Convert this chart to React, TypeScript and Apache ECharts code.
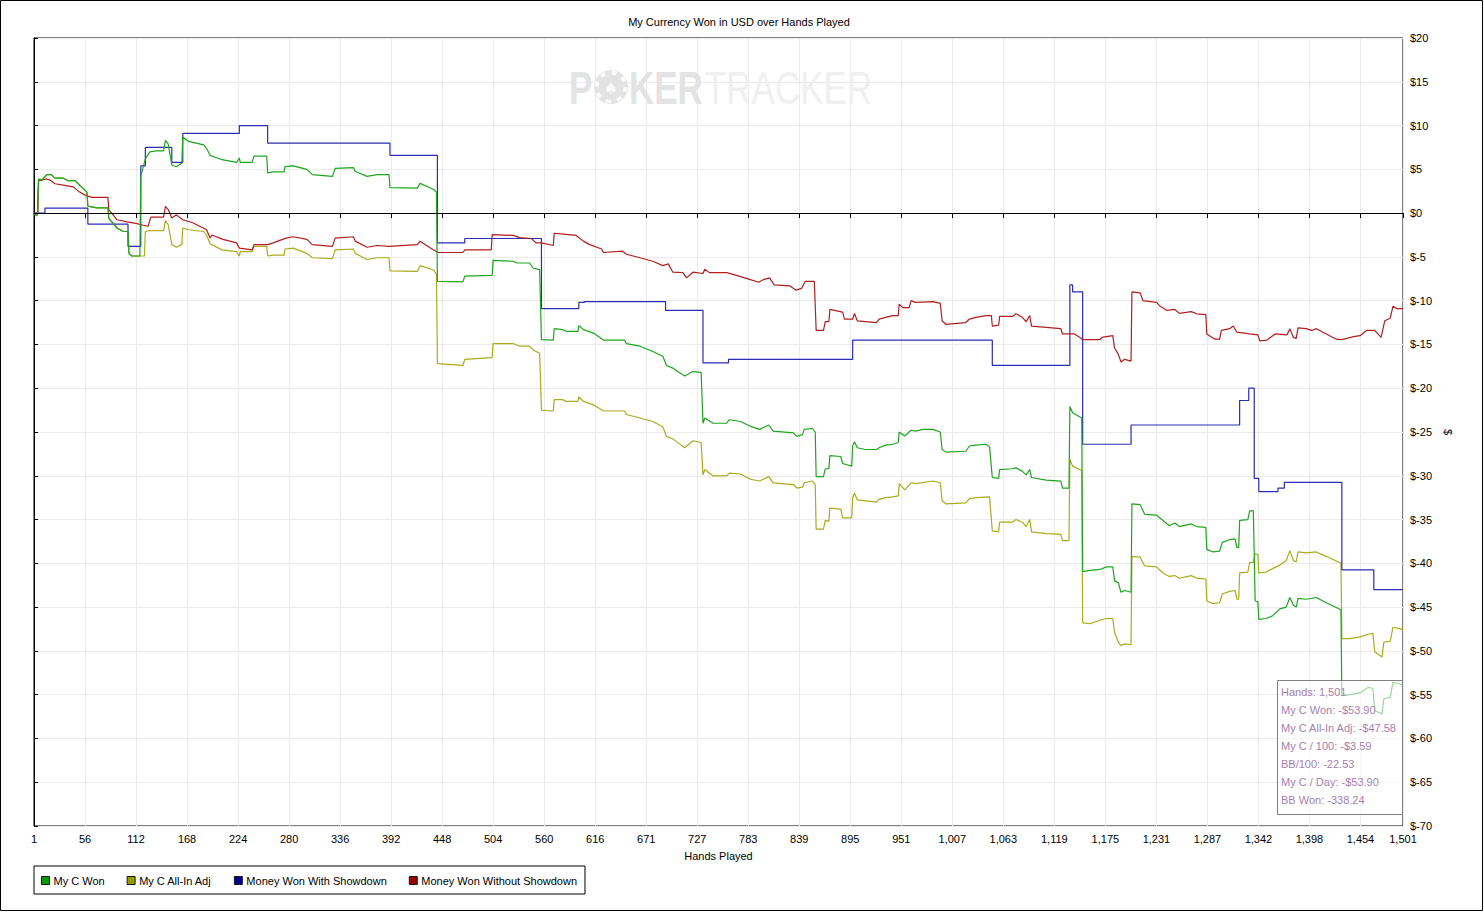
import { useEffect, useRef } from "react";
import * as echarts from "echarts";

const FONT = "'Liberation Sans', Arial, sans-serif";

const chartTitle = "My Currency Won in USD over Hands Played";
const xAxisTitle = "Hands Played";
const yAxisTitle = "$";

const xTickLabels = [
  "1", "56", "112", "168", "224", "280", "336", "392", "448", "504", "560", "616", "671", "727",
  "783", "839", "895", "951", "1,007", "1,063", "1,119", "1,175", "1,231", "1,287", "1,342",
  "1,398", "1,454", "1,501",
];

const seriesNames = ["My C Won", "My C All-In Adj", "Money Won With Showdown", "Money Won Without Showdown"];

const infoLines = [
  "Hands: 1,501",
  "My C Won: -$53.90",
  "My C All-In Adj: -$47.58",
  "My C / 100: -$3.59",
  "BB/100: -22.53",
  "My C / Day: -$53.90",
  "BB Won: -338.24",
];

// [hand, dollars]
const myCWon: [number, number][] = [
  [1, 0], [4, -0.3], [5, 0], [6, 3.9], [10, 3.8], [15, 4.4], [20, 4.4], [24, 4.0], [33, 4.0], [38, 3.7],
  [46, 3.7], [51, 3.2], [57, 2.6], [59, 2.4], [60, 0.8], [70, 0.6], [82, 0.6], [83, -0.6], [92, -1.7],
  [99, -2.1], [104, -2.1], [105, -4.6], [108, -4.9], [117, -4.9], [118, 4.2], [123, 6.2], [128, 7.0],
  [135, 7.1], [143, 7.1], [145, 8.3], [148, 7.9], [152, 5.5], [157, 5.3], [163, 5.7], [164, 8.7],
  [170, 8.2], [187, 7.8], [190, 7.4], [194, 6.6], [207, 6.1], [223, 5.8], [226, 6.3], [227, 5.8],
  [240, 5.8], [242, 6.5], [256, 6.5], [257, 4.6], [263, 4.7], [275, 4.7], [276, 5.3], [285, 5.4],
  [300, 5.0], [306, 4.4], [328, 4.2], [331, 5.1], [351, 5.2], [353, 4.75], [366, 4.2], [377, 4.4],
  [390, 4.4], [391, 2.9], [421, 2.85], [424, 3.4], [439, 2.7], [442, 2.4], [443, -7.8], [471, -7.86],
  [473, -7.2], [503, -7.1], [504, -5.4], [526, -5.5], [530, -5.7], [544, -5.7], [548, -6.3],
  [555, -6.45], [557, -14.45], [570, -14.5], [571, -13.2], [580, -13.3], [584, -13.5], [597, -13.5],
  [598, -12.85], [603, -13.3], [614, -13.7], [625, -14.5], [648, -14.5], [650, -14.9], [665, -15.2],
  [679, -15.8], [690, -16.35], [694, -17.4], [701, -17.7], [705, -18.0], [714, -18.6], [723, -18.1],
  [732, -18.2], [734, -24.0], [736, -23.4], [745, -24.0], [760, -24.0], [763, -23.6], [775, -23.8],
  [786, -24.35], [796, -24.7], [806, -24.2], [811, -24.9], [833, -25.1], [837, -25.5], [843, -25.3],
  [845, -24.7], [854, -24.6], [857, -25.0], [858, -30.1], [866, -30.1], [868, -29.2], [872, -29.2],
  [873, -27.7], [885, -27.8], [887, -28.6], [897, -28.9], [898, -26.6], [900, -26.1], [903, -26.8],
  [912, -27.0], [924, -27.0], [927, -26.8], [934, -26.5], [942, -26.4], [948, -26.2], [949, -25.0],
  [955, -25.45], [962, -24.8], [967, -24.9], [975, -24.7], [986, -24.7], [994, -25.0], [996, -27.0],
  [1000, -27.3], [1022, -27.2], [1026, -26.6], [1033, -26.5], [1044, -26.4], [1048, -26.7],
  [1051, -30.2], [1058, -30.3], [1059, -29.3], [1073, -29.2], [1077, -29.1], [1084, -29.5],
  [1088, -29.9], [1092, -29.3], [1094, -30.2], [1110, -30.5], [1126, -30.6], [1128, -31.4],
  [1135, -31.4], [1136, -22.1], [1139, -22.8], [1149, -23.4], [1150, -40.95], [1158, -40.8],
  [1169, -40.7], [1176, -40.4], [1183, -40.4], [1185, -42.0], [1189, -42.2], [1192, -43.3],
  [1196, -43.1], [1203, -43.3], [1204, -33.2], [1213, -33.3], [1218, -34.4], [1231, -34.5],
  [1238, -35.1], [1245, -35.7], [1251, -35.4], [1256, -35.8], [1269, -35.5], [1275, -35.8],
  [1285, -35.9], [1286, -38.4], [1293, -38.7], [1300, -38.6], [1303, -37.6], [1311, -37.3],
  [1317, -37.2], [1319, -38.2], [1321, -38.2], [1322, -35.1], [1331, -35.0], [1333, -34.0],
  [1337, -34.0], [1339, -44.3], [1342, -44.4], [1343, -46.4], [1351, -46.3], [1358, -46.0],
  [1366, -45.2], [1373, -45.0], [1377, -43.9], [1381, -44.8], [1384, -45.0], [1386, -44.0],
  [1395, -44.1], [1406, -43.9], [1417, -44.5], [1433, -45.3], [1434, -55.1], [1443, -55.0],
  [1454, -54.8], [1463, -54.15], [1468, -54.3], [1470, -56.8], [1478, -57.2], [1480, -55.5],
  [1487, -55.3], [1490, -53.6], [1495, -53.7], [1501, -53.9],
];

const myCAllInAdj: [number, number][] = [
  [1, 0], [4, -0.3], [5, 0], [6, 3.9], [10, 3.8], [15, 4.4], [20, 4.4], [24, 4.0], [33, 4.0], [38, 3.7],
  [46, 3.7], [51, 3.2], [57, 2.6], [59, 2.4], [60, 0.8], [70, 0.6], [82, 0.6], [83, -0.6], [92, -1.7],
  [99, -2.1], [104, -2.1], [105, -4.6], [108, -4.9], [122, -4.9], [123, -2.1], [128, -2.0], [143, -2.0],
  [145, -0.85], [148, -1.3], [152, -3.6], [157, -3.9], [163, -3.6], [164, -1.7], [170, -1.9],
  [187, -2.1], [190, -2.5], [194, -3.5], [207, -4.2], [223, -4.4], [226, -4.9], [227, -4.4],
  [240, -4.4], [242, -3.8], [256, -3.8], [257, -4.9], [263, -4.8], [275, -4.8], [276, -4.1],
  [285, -4.0], [300, -4.6], [306, -5.1], [328, -5.2], [331, -4.2], [351, -4.1], [353, -4.6],
  [366, -5.3], [377, -5.1], [390, -5.1], [391, -6.6], [421, -6.65], [424, -6.0], [439, -6.5],
  [442, -7.0], [443, -17.2], [471, -17.4], [473, -16.7], [503, -16.5], [504, -14.9], [526, -14.9],
  [533, -15.2], [544, -15.2], [549, -15.7], [555, -16.0], [557, -22.5], [570, -22.6], [571, -21.3],
  [580, -21.3], [584, -21.5], [597, -21.5], [598, -21.0], [603, -21.5], [614, -21.9], [625, -22.6],
  [648, -22.6], [650, -23.0], [665, -23.4], [679, -23.8], [690, -24.4], [694, -25.5], [701, -25.8],
  [705, -26.1], [714, -26.8], [723, -26.0], [732, -26.2], [734, -29.9], [736, -29.3], [745, -30.0],
  [760, -30.0], [763, -29.7], [775, -29.8], [786, -30.4], [796, -30.6], [806, -30.1], [811, -30.8],
  [833, -31.0], [837, -31.4], [843, -31.3], [845, -30.8], [854, -30.6], [857, -31.0], [858, -36.1],
  [866, -36.1], [868, -35.1], [872, -35.2], [873, -33.7], [885, -33.8], [887, -34.8], [897, -34.8],
  [898, -32.5], [900, -32.0], [903, -32.75], [924, -33.0], [927, -32.7], [934, -32.5], [942, -32.4],
  [948, -32.3], [949, -30.9], [955, -31.6], [962, -30.8], [967, -30.9], [986, -30.6], [994, -30.8],
  [996, -32.85], [1000, -33.2], [1022, -33.1], [1026, -32.6], [1033, -32.5], [1048, -32.4],
  [1051, -36.3], [1058, -36.4], [1059, -35.3], [1073, -35.3], [1077, -35.0], [1084, -35.3],
  [1088, -35.8], [1092, -35.0], [1094, -36.4], [1110, -36.6], [1126, -36.7], [1128, -37.4],
  [1135, -37.4], [1136, -28.1], [1139, -28.9], [1149, -29.4], [1150, -46.8], [1158, -46.9],
  [1169, -46.5], [1176, -46.3], [1183, -46.3], [1185, -47.9], [1189, -49.0], [1192, -49.4],
  [1196, -49.2], [1203, -49.3], [1204, -39.2], [1213, -39.3], [1218, -40.3], [1231, -40.4],
  [1238, -41.1], [1245, -41.5], [1251, -41.4], [1256, -41.7], [1269, -41.4], [1275, -41.7],
  [1285, -41.8], [1286, -44.3], [1293, -44.6], [1300, -44.5], [1303, -43.5], [1311, -43.2],
  [1317, -43.1], [1319, -44.1], [1321, -44.1], [1322, -41.1], [1331, -41.0], [1333, -39.9],
  [1337, -39.9], [1339, -38.9], [1342, -39.0], [1343, -41.1], [1351, -41.0], [1358, -40.6],
  [1366, -40.2], [1373, -39.7], [1377, -38.55], [1381, -39.7], [1384, -39.8], [1386, -38.7],
  [1395, -38.8], [1406, -38.7], [1417, -39.2], [1433, -40.0], [1434, -48.6], [1443, -48.6],
  [1454, -48.4], [1463, -48.1], [1468, -48.0], [1470, -50.1], [1478, -50.7], [1480, -49.0],
  [1487, -48.9], [1490, -47.3], [1495, -47.4], [1501, -47.58],
];

// value changes to the given amount at the given hand
const wonWithShowdown: [number, number][] = [
  [1, 0], [13, 0.57], [60, -1.25], [104, -3.8], [118, 5.4], [123, 7.5], [152, 5.8], [164, 9.1],
  [226, 10.0], [257, 8.0], [391, 6.6], [443, -3.4], [473, -2.9], [557, -10.9], [598, -10.2],
  [604, -10.1], [693, -11.1], [734, -17.1], [762, -16.7], [898, -14.5], [1051, -17.4], [1136, -8.2],
  [1139, -9.0], [1150, -26.4], [1203, -24.2], [1322, -21.4], [1332, -20.0], [1338, -30.3],
  [1343, -31.8], [1364, -31.4], [1371, -30.75], [1434, -40.75], [1469, -43.0], [1501, -43.0],
];

const wonWithoutShowdown: [number, number][] = [
  [1, 0], [5, 0], [6, 3.7], [10, 3.8], [15, 3.9], [18, 3.8], [24, 3.35], [33, 3.2], [44, 3.0],
  [51, 2.4], [58, 2.0], [65, 1.8], [82, 1.8], [83, 0.4], [92, -0.76], [103, -1.0], [114, -1.2],
  [117, -1.3], [126, -1.5], [129, -0.45], [143, -0.45], [145, 0.76], [148, 0.4], [152, -0.57],
  [157, -0.2], [164, -0.76], [175, -1.1], [190, -1.9], [194, -2.85], [196, -2.5], [208, -3.0],
  [223, -3.4], [226, -4.0], [240, -4.2], [242, -3.6], [257, -3.6], [263, -3.4], [277, -2.85],
  [285, -2.7], [300, -3.0], [306, -3.6], [328, -3.8], [331, -2.85], [351, -2.7], [353, -3.2],
  [366, -3.9], [377, -3.7], [390, -3.8], [421, -3.6], [424, -3.2], [438, -4.16], [444, -4.5],
  [471, -4.5], [473, -4.2], [502, -4.2], [503, -2.45], [526, -2.55], [533, -2.8], [546, -2.9],
  [551, -3.4], [557, -3.4], [570, -3.7], [571, -2.3], [581, -2.4], [595, -2.55], [603, -3.2],
  [610, -3.6], [623, -4.1], [625, -4.5], [646, -4.35], [650, -4.7], [665, -5.1], [679, -5.5],
  [690, -6.0], [696, -5.8], [701, -6.75], [712, -6.8], [716, -7.4], [723, -6.75], [734, -6.9],
  [736, -6.4], [741, -6.8], [760, -6.8], [767, -7.0], [786, -7.6], [795, -7.9], [800, -7.6],
  [807, -7.4], [812, -8.2], [829, -8.3], [836, -8.8], [842, -8.6], [846, -7.8], [856, -7.8],
  [858, -13.4], [866, -13.4], [868, -12.4], [872, -12.4], [873, -11.0], [887, -11.3], [889, -12.1],
  [898, -12.1], [900, -11.45], [903, -12.3], [924, -12.5], [927, -12.1], [934, -11.9], [942, -11.7],
  [948, -11.7], [949, -10.4], [953, -10.8], [960, -10.8], [962, -10.0], [967, -10.2], [986, -10.1],
  [994, -10.3], [996, -12.3], [1000, -12.7], [1022, -12.5], [1026, -12.1], [1033, -11.9],
  [1044, -11.7], [1050, -11.7], [1051, -12.9], [1058, -12.8], [1059, -11.8], [1073, -11.8],
  [1077, -11.5], [1084, -11.9], [1088, -12.4], [1092, -11.7], [1094, -12.9], [1110, -13.05],
  [1126, -13.2], [1128, -13.8], [1141, -13.8], [1147, -14.2], [1150, -14.45], [1169, -14.45],
  [1171, -14.2], [1183, -14.0], [1185, -15.4], [1189, -16.1], [1192, -17.0], [1196, -16.7],
  [1203, -16.9], [1204, -9.0], [1213, -9.1], [1216, -10.0], [1231, -10.2], [1235, -10.65],
  [1242, -11.1], [1251, -11.0], [1256, -11.45], [1269, -11.25], [1275, -11.5], [1285, -11.6],
  [1286, -13.8], [1295, -14.4], [1300, -14.4], [1302, -13.4], [1311, -13.2], [1315, -12.9],
  [1319, -13.6], [1333, -13.8], [1342, -13.9], [1344, -14.6], [1352, -14.5], [1361, -13.8],
  [1374, -13.9], [1377, -13.2], [1381, -14.2], [1384, -14.3], [1386, -13.1], [1395, -13.2],
  [1401, -13.4], [1406, -13.2], [1417, -13.8], [1428, -14.4], [1434, -14.45], [1447, -14.1],
  [1454, -14.0], [1461, -13.4], [1470, -13.4], [1477, -14.2], [1481, -12.3], [1487, -12.0],
  [1490, -10.65], [1494, -10.9], [1501, -10.9],
];

const lineColors = ["#1ea51e", "#abab1c", "#2c2cb4", "#b21e1e"];
const legendColors = ["#009900", "#999900", "#000099", "#990000"];

const HAND_STEP = 55.9;
// the axis runs in "hands after the first", so that 0 is a multiple of the tick step
const toAxis = (pts: [number, number][]) => pts.map(([h, v]) => [h - 1, v]);

function buildOption(): any {
  const textBase = { fontFamily: FONT, fontSize: 11, color: "#000" };
  const lineSeries = (i: number, data: [number, number][], extra: any = {}) => ({
    name: seriesNames[i],
    type: "line",
    data: toAxis(data),
    showSymbol: false,
    symbol: "none",
    silent: true,
    lineStyle: { color: lineColors[i], width: 1.2 },
    itemStyle: { color: legendColors[i] },
    emphasis: { disabled: true },
    ...extra,
  });

  return {
    animation: false,
    backgroundColor: "#ffffff",
    textStyle: { fontFamily: FONT },
    grid: {
      left: 34,
      right: 81,
      top: 38,
      bottom: 86,
      show: true,
      borderColor: "#000",
      borderWidth: 1,
      backgroundColor: "transparent",
      containLabel: false,
      outerBoundsMode: "none",
    },
    xAxis: {
      type: "value",
      min: 0,
      max: 1500,
      interval: HAND_STEP,
      name: xAxisTitle,
      nameLocation: "middle",
      nameGap: 24,
      nameTextStyle: textBase,
      axisLine: { show: true, lineStyle: { color: "#000", width: 1 } },
      axisTick: { show: true, length: 5, lineStyle: { color: "#000" } },
      axisLabel: {
        ...textBase,
        margin: 7,
        showMinLabel: true,
        showMaxLabel: true,
        hideOverlap: false,
        formatter: (v: number) => xTickLabels[Math.round(v / HAND_STEP)] ?? "",
      },
      splitLine: { show: true, lineStyle: { color: "#ebebeb", width: 1 } },
    },
    yAxis: {
      type: "value",
      position: "right",
      min: -70,
      max: 20,
      interval: 5,
      name: yAxisTitle,
      nameLocation: "middle",
      nameGap: 37,
      nameRotate: -90,
      nameTextStyle: textBase,
      axisLine: { show: true, lineStyle: { color: "#000", width: 1 } },
      axisTick: { show: true, length: 4, lineStyle: { color: "#000" } },
      axisLabel: { ...textBase, margin: 7, formatter: (v: number) => "$" + v },
      splitLine: { show: true, lineStyle: { color: "#ebebeb", width: 1 } },
    },
    legend: {
      left: 34,
      top: 866,
      orient: "horizontal",
      padding: [9, 8, 8, 7],
      borderColor: "#000",
      borderWidth: 1,
      backgroundColor: "#fff",
      icon: "rect",
      itemWidth: 8,
      itemHeight: 8,
      itemGap: 22,
      selectedMode: false,
      textStyle: { ...textBase, padding: [0, 0, 0, -1] },
      data: seriesNames.map((n, i) => ({
        name: n,
        icon: "rect",
        itemStyle: { color: legendColors[i], borderColor: "#1a1a1a", borderWidth: 1 },
      })),
    },
    graphic: [
      {
        type: "rect",
        silent: true,
        z: 200,
        shape: { x: 0.5, y: 0.5, width: 1482, height: 910 },
        style: { fill: "none", stroke: "#000", lineWidth: 1 },
      },
      {
        type: "text",
        silent: true,
        x: 739,
        y: 22,
        style: { text: chartTitle, font: `11px ${FONT}`, fill: "#000", align: "center", verticalAlign: "middle" },
      },
      // watermark
      {
        type: "text",
        silent: true,
        z: 1,
        x: 569,
        y: 88,
        scaleX: 0.76,
        style: { text: "P", font: `bold 46px ${FONT}`, fill: "#e3e3e3", align: "left", verticalAlign: "middle" },
      },
      {
        type: "circle",
        silent: true,
        z: 1,
        shape: { cx: 611, cy: 87, r: 17 },
        style: { fill: "#e3e3e3" },
      },
      {
        type: "circle",
        silent: true,
        z: 1,
        shape: { cx: 611, cy: 87, r: 14.5 },
        style: { fill: "none", stroke: "#fafafa", lineWidth: 4, lineDash: [5, 6.4] },
      },
      {
        type: "text",
        silent: true,
        z: 1,
        x: 611,
        y: 88,
        style: { text: "\u2660", font: `16px 'DejaVu Sans', sans-serif`, fill: "#fafafa", align: "center", verticalAlign: "middle" },
      },
      {
        type: "text",
        silent: true,
        z: 1,
        x: 629,
        y: 88,
        scaleX: 0.76,
        style: { text: "KER", font: `bold 46px ${FONT}`, fill: "#e3e3e3", align: "left", verticalAlign: "middle" },
      },
      {
        type: "text",
        silent: true,
        z: 1,
        x: 705,
        y: 88,
        scaleX: 0.76,
        style: { text: "TRACKER", font: `46px ${FONT}`, fill: "#f0f0f0", align: "left", verticalAlign: "middle" },
      },
      // info box
      {
        type: "rect",
        silent: true,
        z: 100,
        shape: { x: 1277.5, y: 680.5, width: 125, height: 134 },
        style: { fill: "rgba(255,255,255,0.55)", stroke: "#808080", lineWidth: 1 },
      },
      ...infoLines.map((t, i) => ({
        type: "text",
        silent: true,
        z: 101,
        x: 1281,
        y: 692 + i * 18,
        style: { text: t, font: `11px ${FONT}`, fill: "#a67fae", align: "left", verticalAlign: "middle" },
      })),
    ],
    series: [
      lineSeries(0, myCWon, { z: 4 }),
      lineSeries(1, myCAllInAdj, { z: 3 }),
      lineSeries(2, wonWithShowdown, {
        z: 3,
        step: "end",
        markLine: {
          silent: true,
          symbol: ["none", "none"],
          label: { show: false },
          lineStyle: { color: "#000", type: "solid", width: 1 },
          emphasis: { disabled: true },
          data: [{ yAxis: 0 }],
        },
      }),
      lineSeries(3, wonWithoutShowdown, { z: 3 }),
    ],
  };
}

export default function App() {
  const ref = useRef<HTMLDivElement>(null);
  useEffect(() => {
    document.body.style.margin = "0";
    if (!ref.current) return;
    const chart = echarts.init(ref.current, null, { renderer: "svg", width: 1484, height: 912 });
    chart.setOption(buildOption());
    return () => chart.dispose();
  }, []);
  return <div ref={ref} style={{ width: 1484, height: 912, background: "#fff" }} />;
}
